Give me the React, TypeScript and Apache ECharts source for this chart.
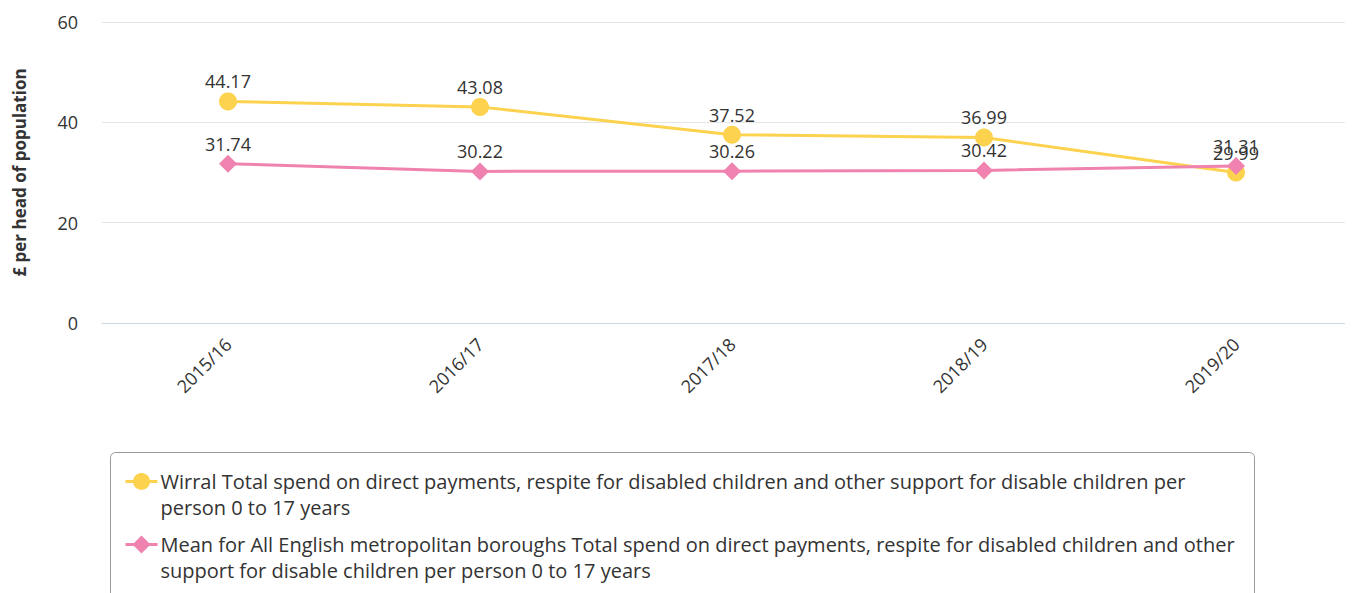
import React, { useEffect, useRef } from "react";
import * as echarts from "echarts";

const categories = ["2015/16", "2016/17", "2017/18", "2018/19", "2019/20"];
const wirral = [44.17, 43.08, 37.52, 36.99, 29.99];
const meanMet = [31.74, 30.22, 30.26, 30.42, 31.31];
const yTicks = { min: 0, max: 60, interval: 20 };
const seriesNames = [
  "Wirral Total spend on direct payments, respite for disabled children and other support for disable children per person 0 to 17 years",
  "Mean for All English metropolitan boroughs Total spend on direct payments, respite for disabled children and other support for disable children per person 0 to 17 years",
];
const colors = ["#fdd24e", "#ef82af"];

const FONT = "'Open Sans', 'Noto Sans', sans-serif";

export default function App() {
  const ref = useRef<HTMLDivElement>(null);
  useEffect(() => {
    document.body.style.overflow = "hidden";
    const chart = echarts.init(ref.current!, undefined, { renderer: "svg" });
    const labelStyle = {
      show: true,
      position: "top" as const,
      distance: 2,
      color: "#333",
      fontSize: 18,
      fontFamily: FONT,
    };
    const legendText = (name: string, top: number) => ({
      type: "text",
      x: 50,
      y: top,
      style: {
        text: name,
        width: 1090,
        overflow: "break",
        lineHeight: 26,
        fontSize: 20,
        fontFamily: FONT,
        fill: "#333",
        verticalAlign: "top",
      },
    });
    chart.setOption({
      animation: false,
      textStyle: { fontFamily: FONT },
      grid: { left: 94, width: 1260, top: 14, height: 301, outerBoundsMode: "none", containLabel: false },
      xAxis: {
        type: "category",
        data: categories,
        boundaryGap: true,
        axisLine: { lineStyle: { color: "#ccd6eb" } },
        axisTick: { show: false },
        axisLabel: {
          rotate: 45,
          color: "#333",
          fontSize: 18,
          fontFamily: FONT,
          margin: 18,
        },
      },
      yAxis: {
        type: "value",
        min: yTicks.min,
        max: yTicks.max,
        interval: yTicks.interval,
        name: "£ per head of population",
        nameLocation: "middle",
        nameGap: 74,
        nameRotate: 90,
        nameTextStyle: { fontWeight: "bold", fontSize: 17, color: "#333", fontFamily: FONT },
        axisLine: { show: false },
        axisTick: { show: false },
        splitLine: { lineStyle: { color: "#e6e6e6" } },
        axisLabel: { color: "#333", fontSize: 18, fontFamily: FONT, margin: 24 },
      },
      legend: { show: false },
      graphic: [
        {
          type: "group",
          left: 102,
          top: 444,
          children: [
            {
              type: "rect",
              shape: { x: 0, y: 0, width: 1144, height: 200, r: 5 },
              style: { fill: "#fff", stroke: "#999", lineWidth: 1 },
            },
            {
              type: "line",
              shape: { x1: 15, y1: 29, x2: 47, y2: 29 },
              style: { stroke: colors[0], lineWidth: 3 },
            },
            {
              type: "circle",
              shape: { cx: 31, cy: 29, r: 8.5 },
              style: { fill: colors[0] },
            },
            legendText(seriesNames[0], 16),
            {
              type: "line",
              shape: { x1: 15, y1: 92, x2: 47, y2: 92 },
              style: { stroke: colors[1], lineWidth: 3 },
            },
            {
              type: "polygon",
              shape: { points: [[31, 83], [40, 92], [31, 101], [22, 92]] },
              style: { fill: colors[1] },
            },
            legendText(seriesNames[1], 79),
          ],
        },
      ],
      series: [
        {
          name: seriesNames[0],
          type: "line",
          data: wirral,
          color: colors[0],
          symbol: "circle",
          symbolSize: 18,
          lineStyle: { width: 3 },
          label: labelStyle,
          z: 2,
        },
        {
          name: seriesNames[1],
          type: "line",
          data: meanMet,
          color: colors[1],
          symbol: "diamond",
          symbolSize: 18,
          lineStyle: { width: 3 },
          label: labelStyle,
          z: 3,
        },
      ],
    });
    return () => chart.dispose();
  }, []);
  return (
    <div style={{ width: 1345, height: 585, overflow: "hidden" }}>
      <div ref={ref} style={{ width: 1400, height: 585 }} />
    </div>
  );
}
